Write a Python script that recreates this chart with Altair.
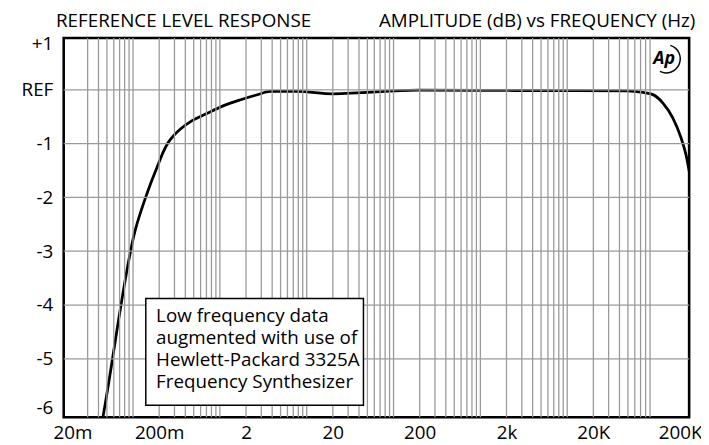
import altair as alt
import pandas as pd

# ---- data ----
freq_hz = [0.0415, 0.045, 0.106, 0.140, 0.164, 0.1956, 0.223, 0.254, 0.303,
           0.469, 0.726, 1.125, 1.739, 2.70, 3.82, 7.7, 20.2, 195, 2470, 48300, 74800,
           97300, 126500, 164400, 204400, 232900, 254600]
level_db = [-6.4, -6.085, -2.608, -1.995, -1.69, -1.38, -1.154, -0.979, -0.828,
            -0.583, -0.431, -0.289, -0.184, -0.092, -0.031, -0.03, -0.074, -0.007, -0.013, -0.018, -0.05,
            -0.09, -0.246, -0.52, -0.89, -1.20, -1.52]

x_label_values = [0.02, 0.2, 2, 20, 200, 2000, 20000, 200000]
x_label_texts = ["20m", "200m", "2", "20", "200", "2k", "20K", "200K"]
y_label_values = [-5.9, -5, -4, -3, -2, -1, 0, 0.86]
h_grid = [-5, -4, -3, -2, -1, 0]
v_grid = [k * 10.0 ** n for n in range(-2, 5) for k in range(1, 10)]
v_grid = [v for v in v_grid if 0.029 <= v <= 100001]

title_left = "REFERENCE LEVEL RESPONSE"
title_right = "AMPLITUDE (dB) vs FREQUENCY (Hz)"
note_text = "Low frequency data\naugmented with use of\nHewlett-Packard 3325A\nFrequency Synthesizer"

FONT = "Open Sans"
FS = 19
W, H = 632.2, 383.3

xscale = alt.Scale(type="log", domain=[0.0159, 253600], nice=False)
yscale = alt.Scale(domain=[-6.085, 0.962], nice=False, zero=False)

x_expr = " : ".join(
    f"datum.value < {v * 3} ? '{t}'" for v, t in zip(x_label_values[:-1], x_label_texts[:-1])
) + f" : '{x_label_texts[-1]}'"

curve_df = pd.DataFrame({"f": freq_hz, "v": level_db})

curve = alt.Chart(curve_df).mark_line(
    color="black", strokeWidth=2.8, interpolate="monotone", clip=True
).encode(
    x=alt.X("f:Q", scale=xscale, axis=alt.Axis(
        values=x_label_values, labelExpr=x_expr, grid=False, ticks=False, domain=False,
        title=None, labelFont=FONT, labelFontSize=FS, labelColor="black",
        labelPadding=7, labelFlush=False, labelOverlap=False)),
    y=alt.Y("v:Q", scale=yscale, axis=alt.Axis(
        values=y_label_values,
        labelExpr="datum.value > 0.5 ? '+1' : datum.value == 0 ? 'REF' : '-' + round(-datum.value)",
        grid=False, ticks=False, domain=False, title=None, labelFont=FONT,
        labelFontSize=FS, labelColor="black", labelPadding=11, labelOverlap=False)),
)

vlines = alt.Chart(pd.DataFrame({"f": v_grid})).mark_rule(
    color="#9a9a9a", strokeWidth=1.3
).encode(x=alt.X("f:Q", scale=xscale))

hlines = alt.Chart(pd.DataFrame({"v": h_grid})).mark_rule(
    color="#9a9a9a", strokeWidth=1.3
).encode(y=alt.Y("v:Q", scale=yscale))

one = pd.DataFrame({"t": [0]})

note_box = alt.Chart(one).mark_rect(fill="white", stroke="black", strokeWidth=1.5).encode(
    x=alt.value(83), x2=alt.value(303), y=alt.value(263.3), y2=alt.value(371.3)
)
note = alt.Chart(one).mark_text(
    align="left", baseline="middle", font=FONT, fontSize=FS, lineBreak="\n",
    lineHeight=22.3, color="black"
).encode(x=alt.value(93.4), y=alt.value(280.8), text=alt.value(note_text))

t_left = alt.Chart(one).mark_text(
    align="left", baseline="alphabetic", font=FONT, fontSize=FS, color="black"
).encode(x=alt.value(-7.8), y=alt.value(-11), text=alt.value(title_left))
t_right = alt.Chart(one).mark_text(
    align="right", baseline="alphabetic", font=FONT, fontSize=FS, color="black"
).encode(x=alt.value(638.5), y=alt.value(-11), text=alt.value(title_right))

logo_txt = alt.Chart(one).mark_text(
    align="center", baseline="middle", font=FONT, fontSize=18, fontStyle="italic",
    fontWeight="bold", color="black"
).encode(x=alt.value(607), y=alt.value(21), text=alt.value("Ap"))
logo_arc = alt.Chart(one).mark_arc(color="black").encode(
    x=alt.value(609), y=alt.value(21), radius=alt.value(15), radius2=alt.value(13.5),
    theta=alt.value(0.3), theta2=alt.value(3.6)
)

chart = alt.layer(
    curve, vlines, hlines, note_box, note, t_left, t_right, logo_txt, logo_arc
).properties(
    width=W, height=H,
    autosize=alt.AutoSizeParams(type="none"),
    padding={"left": 56.3, "top": 28, "right": 12, "bottom": 24},
    background="white",
).configure_view(stroke="black", strokeWidth=2.6)

chart.save("out.html", embed_options={"renderer": "svg", "actions": False})
